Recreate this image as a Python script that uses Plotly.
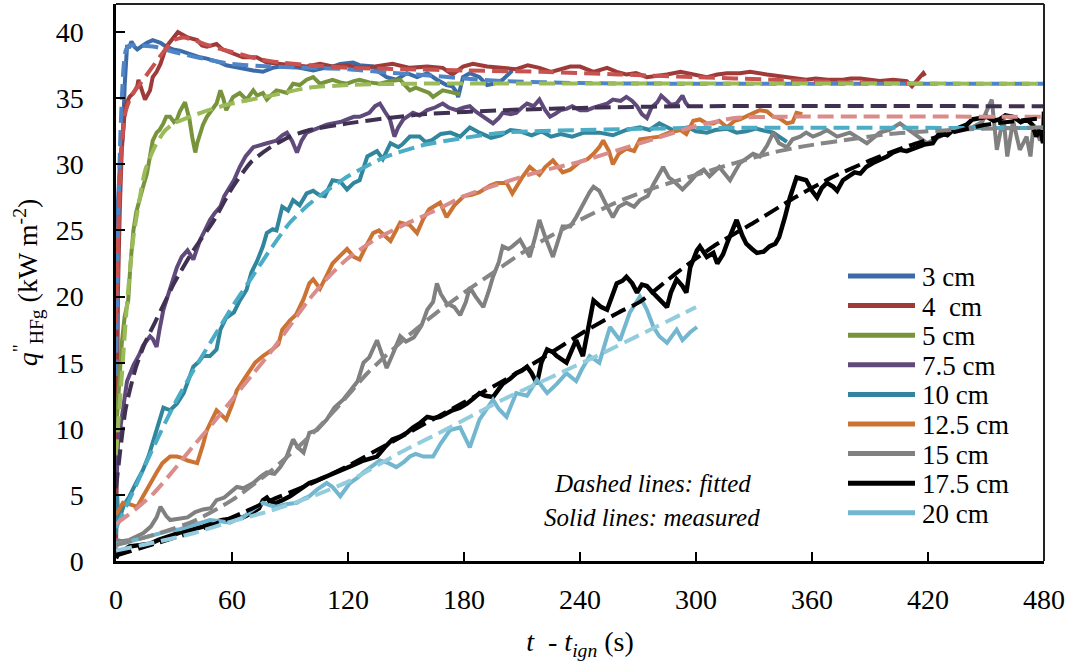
import plotly.graph_objects as go

# ---------------- data (t - t_ign [s], q''_HFg [kW m^-2]) ----------------
labels = ["3 cm", "4\u00a0 cm", "5 cm", "7.5 cm", "10 cm", "12.5 cm", "15 cm", "17.5 cm", "20 cm"]

meas_3cm = [(0,1.0),(0.3,8),(0.6,20.7),(1,27),(2,30),(3.6,32.4),(4.5,36),(5.2,38.5),(5.7,38.9),(7,38.9),(8,39.3),
            (9.5,38.9),(11,38.7),(13,38.9),(16,39.2),(19,39.4),(23,39.2),(26,38.9),(29.5,38.7),(33,38.6),(37,38.4),
            (40,38.2),(43.5,38.1),(47,38.0),(50,37.9),(54,37.7),(57,37.5),(60,37.4),(64,37.3),(67,37.2),(71,37.1),
            (76,37.0),(81,37.3),(85,37.4),(88.4,37.4),(95,37.3),(102,37.1),(108,37.3),(112,37.4),(116,37.6),
            (122.6,37.7),(126,37.5),(133,37.4),(136,37.0),(140,36.6),(145,36.4),(150.5,36.9),(155.7,36.6),
            (161,36.9),(166,36.4),(171,36.0),(174,35.9),(176,35.5),(177,35.1),(179.5,36.6),(183,36.9),(188,36.6),
            (192,36.0),(195,36.1),(200,36.4),(203,36.8),(205,37.1)]
meas_4cm = [(0,0.5),(0.5,8),(1,20.3),(2,26.8),(3,31.1),(4.7,34.4),(7,35.1),(9,35.4),(11,35.9),(11.6,36.4),(13.3,35.6),
            (15,34.9),(17.6,35.6),(19,36.6),(21,37.0),(23,37.6),(26,38.9),(29.5,39.6),(32,40.0),(34.5,39.8),(37,39.6),
            (42,39.4),(44.5,39.0),(47,38.9),(52,39.1),(55,38.7),(60.6,38.4),(65.7,38.1),(72.7,38.1),(78,37.7),(85,37.6),
            (91.6,37.5),(98.6,37.4),(105.5,37.6),(112,37.4),(119.5,37.5),(126,37.3),(134,37.4),(143,37.6),(152,37.3),
            (161,37.4),(169,37.3),(174,36.8),(179.5,37.4),(184.6,37.6),(192,37.4),(198.6,37.3),(207,37.2),(213,37.5),
            (219,37.3),(225,37.0),(230,37.2),(235,37.4),(240,37.4),(247,37.0),(254,37.3),(259,37.0),(264,36.8),
            (269,36.9),(274.6,36.6),(280,36.7),(285,36.8),(292,37.0),(298.6,36.8),(305.6,36.6),(311,36.8),(316,36.9),
            (322.7,36.9),(328,37.0),(336.7,36.8),(342,36.7),(347,36.6),(352,36.5),(357,36.4),(362,36.5),(368,36.4),
            (376,36.4),(380,36.5),(385,36.5),(390,36.4),(395,36.3),(402,36.4),(409,36.3),(411.7,35.9),(415,36.4),
            (417.6,36.9),(418.5,36.7)]
meas_5cm = [(0,9.7),(0.5,11),(1.5,13.5),(3,16.5),(4.5,18.5),(6.3,19.7),(7.5,22.5),(9,25.0),(10.5,26.4),(12.4,27.3),
            (14,28.3),(16,29.3),(17.5,30.7),(19,31.8),(21,32.4),(22.5,32.6),(24.5,33.1),(26,33.6),(28,33.6),(30,33.2),
            (31.5,33.4),(33,34.0),(35.7,34.7),(37,34.0),(38,33.4),(39.5,32.0),(41,30.9),(42,31.6),(43.5,32.4),(45,33.0),
            (47,33.6),(49,34.0),(52,34.6),(54,35.6),(55.5,35.0),(57,34.1),(59,34.6),(60.6,35.1),(64,35.4),(67.5,34.9),
            (71,35.6),(73,35.2),(76,35.4),(78,34.9),(80,35.2),(83,35.6),(86,35.5),(88.4,35.4),(91.6,36.1),(95,36.0),
            (98.6,36.4),(102,36.6),(105.5,36.1),(109,36.3),(112,36.4),(116,36.2),(119.5,36.1),(123,36.3),(126,36.4),
            (131,36.2),(136.5,36.1),(142,36.3),(147,36.4),(150,35.9),(152,35.6),(155,35.8),(159,35.6),(162,35.4),
            (164,35.1),(167,35.4),(169,35.6),(172,35.5),(176,35.4),(178,35.3)]
meas_7p5cm = [(0,6.0),(0.5,6.7),(1,8.8),(2,9.9),(4,12.0),(5.7,13.6),(9,14.8),(12,15.6),(14,16.3),(17.6,17.0),(19,16.8),
              (21,16.2),(22.5,17.5),(24.5,19.0),(26,19.7),(28.5,20.8),(31.5,22.2),(34,23.0),(37,23.5),(40,22.8),
              (43.5,24.3),(46,25.0),(48.6,25.8),(51,26.3),(54,26.8),(56,27.6),(59,28.3),(61,28.8),(64,29.8),(67,30.6),
              (71,31.3),(74,31.4),(78,31.6),(83,31.8),(86,32.2),(88.4,32.4),(91,31.8),(93.6,30.9),(96,31.8),(98.6,32.4),
              (102,32.6),(105.5,32.8),(109,33.0),(112,33.1),(116,33.2),(119.5,33.4),(123,33.6),(126,33.6),(131,33.9),
              (134,34.4),(136.5,34.6),(139,34.0),(141.7,33.4),(144,32.1),(146,32.8),(148.6,33.4),(153.6,33.9),
              (157,33.7),(161,34.1),(165,34.3),(169,34.6),(172,34.3),(176,34.1),(180,34.3),(183,34.4),(186,34.0),
              (190,33.6),(195,33.1),(198,33.5),(200,33.9),(204,33.8),(207,33.9),(210,34.3),(212.6,34.6),(216,34.4),
              (219,34.9),(222,34.1),(224.5,33.6),(227,33.8),(230,34.1),(233,34.2),(236,34.4),(240,34.1),(243.6,34.1),
              (247,34.3),(250,34.4),(254,34.6),(257,34.9),(261,34.8),(264,35.1),(267,34.8),(269.5,34.4),(272,33.8),
              (274.6,33.5),(277,34.3),(280,34.7),(282,35.2),(285,34.8),(287,34.5),(290,34.6),(293,35.2),(294.5,34.7),
              (296,34.4)]
meas_10cm = [(0,2.0),(0.3,3.0),(0.6,5.0),(1,3.6),(2,3.3),(4,4.2),(7,4.9),(10,5.8),(14,6.9),(17,8.0),(19,8.9),(22,10.3),
             (24.5,11.6),(28,11.4),(31.5,11.9),(35,12.7),(38,13.8),(40,14.7),(43,15.1),(45,15.5),(48.6,15.5),(52,16.0),
             (54,17.5),(57,18.4),(61,18.8),(64,19.7),(67.5,20.5),(70,21.8),(73,22.7),(76,23.8),(78,24.8),(81,25.1),
             (83,25.0),(86,26.8),(89,26.5),(91.6,27.3),(95,26.9),(98.6,27.8),(102,28.0),(105,27.7),(108,27.6),(112,28.8),
             (116,28.7),(119.5,28.1),(123,28.6),(126,28.8),(130,30.6),(133,30.8),(135,31.0),(138,30.4),(142,31.6),
             (146,31.3),(148,31.5),(152,32.1),(157,32.1),(160,31.7),(163,31.8),(168,32.3),(173,32.4),(178,32.1),
             (183,32.8),(188,32.4),(194,32.0),(199,32.2),(204,32.6),(209,32.5),(215,32.2),(220,32.5),(225,32.1),
             (230,32.3),(236,32.1),(242,32.4),(250,32.4),(257,32.2),(264,32.6),(271,32.8),(276,32.6),(281,33.1),
             (288,32.6),(296,32.8),(300,32.5),(305.6,32.4),(310,32.6),(316,32.7),(321,32.4),(326,32.5),(331,32.7),
             (336.7,32.5),(340,32.4),(343,32.1),(347,31.7)]
meas_12p5cm = [(0,3.5),(3.6,4.4),(7,4.3),(11,4.1),(14,4.9),(17.6,5.9),(21,6.7),(24,7.4),(28,7.9),(31.5,7.9),(34,7.8),
               (37,7.6),(42,7.4),(45,8.8),(47,9.9),(52,11.4),(57,10.7),(60,11.8),(62.5,12.9),(66,13.7),(69,14.4),
               (72,15.0),(76,15.5),(81,16.0),(84,16.4),(86,17.5),(90,18.2),(93,18.6),(97,19.8),(100,21.0),(102,21.3),
               (105.5,20.6),(109,21.6),(112,22.5),(116,23.1),(119.5,23.6),(123,23.0),(126,22.8),(130,24.0),(133,24.8),
               (136,25.0),(139,24.6),(142,24.2),(147,25.6),(152,25.4),(155.7,24.8),(159,25.9),(162,26.6),(167.6,27.1),
               (171,26.0),(175,26.9),(180,27.6),(184,27.7),(188,27.9),(193.5,28.4),(197,28.6),(202,28.6),(205,27.8),
               (210,29.0),(214,29.8),(219,29.2),(222,29.8),(226,30.3),(231,29.4),(235,29.6),(240,30.2),(244,30.4),
               (247,30.8),(250,31.3),(252,31.8),(255,31.0),(257,30.0),(260,30.8),(264,31.2),(268,31.0),(271,31.9),
               (276,32.0),(281,32.1),(286,32.4),(292,32.6),(295,32.3),(298.6,33.3),(302,33.4),(305.6,33.1),(309,33.1),
               (312,33.3),(316,32.8),(320,33.3),(322.7,33.4),(326,33.6),(330,33.9),(333,34.1),(336.7,34.0),(340,33.6),
               (343,33.5),(347,33.1),(350,33.2),(352,33.9),(355,33.8)]
meas_15cm = [(0,1.6),(3,1.5),(7,1.6),(10,1.8),(14,2.1),(18,2.6),(21,3.3),(23,4.1),(26,3.4),(28,3.1),(32,3.2),(37,3.3),
             (41,3.7),(45,3.9),(49,4.0),(52,4.6),(56,4.8),(59,5.2),(62.5,5.6),(66,5.5),(71,5.9),(75,6.4),(78,6.7),
             (82,6.6),(85,7.1),(88,7.8),(91.6,9.2),(94,8.6),(97,8.2),(100,9.7),(104,9.9),(109,10.7),(113,11.6),
             (117.5,12.2),(122.6,13.2),(125,13.6),(128,15.0),(131,15.4),(135,16.7),(137,15.8),(140,14.6),(143,15.6),
             (147,17.0),(150,16.6),(154,16.9),(158,17.8),(161,19.0),(164,19.6),(166,21.0),(168,20.2),(171,19.5),
             (175,19.2),(178,18.6),(181,19.6),(183,20.7),(186,20.0),(190,19.2),(193,20.5),(195,21.5),(198,22.6),
             (200,23.8),(203,23.6),(205,23.8),(209,24.3),(212,23.6),(214,23.0),(217,24.6),(219,25.8),(222,24.5),
             (226,23.0),(231,25.3),(235,25.3),(238,26.0),(241.5,27.0),(245,27.9),(247,28.3),(250,28.0),(254,26.8),
             (257,26.0),(260,26.8),(264,27.1),(268,26.8),(271,27.3),(275,27.6),(278,28.5),(283,29.8),(286,29.0),
             (288,28.8),(293,28.1),(297,28.7),(300.5,29.3),(304,29.6),(307,29.1),(312,29.8),(317.6,28.8),
             (322.7,30.1),(329.5,30.8),(333,30.6),(336.7,31.4),(340,32.4),(343,31.6),(347,31.3),(350,31.9),
             (353.8,32.1),(357,32.4),(360.5,32.1),(364,32.3),(367.7,32.6),(373,32.1),(379.6,32.4),(384,32.0),
             (388.4,31.6),(395,32.4),(400,32.6),(405.5,33.1),(412,32.4),(419.5,31.6),(426,32.1),(433,32.6),
             (443,32.8),(448,33.2),(450.5,34.1),(453,34.9),(455.6,31.1),(459,33.6),(461,30.6),(464,33.3),
             (467.5,31.1),(471,32.1),(473,30.6),(474.6,33.0),(478,31.8),(480,33.0)]
meas_17p5cm = [(0,0.2),(1,0.5),(4,0.8),(7,1.1),(12,1.2),(17.6,1.3),(22,1.6),(26,1.8),(31.5,2.1),(36,2.3),(40,2.4),
               (45,2.6),(50,2.9),(55,3.1),(60,3.2),(65.7,3.3),(70,3.6),(74,4.0),(76,4.6),(78,4.8),(80,4.4),(83,4.4),
               (86,4.6),(90,4.9),(95,5.4),(100,5.9),(104,6.1),(109,6.4),(113,6.6),(117.5,6.9),(122,7.2),(128,7.6),
               (131,7.7),(135,7.9),(139,8.6),(143,9.2),(147,9.4),(150.5,9.7),(153.6,10.1),(157,10.4),(161,10.9),
               (164,10.8),(167.6,10.9),(171,11.2),(174,11.4),(178,11.6),(181.5,11.9),(185,12.3),(188,12.7),(191,12.5),
               (195,12.4),(198,13.0),(200,13.4),(204,13.8),(207,14.2),(210,14.4),(212.6,14.7),(215,14.2),(217.7,13.4),
               (220,15.0),(223,16.0),(226,15.8),(228,15.5),(233,15.0),(236,16.0),(238,16.7),(241.5,15.5),(244,17.5),
               (247,19.7),(251,19.2),(254,19.0),(257,20.2),(259,21.0),(262,21.2),(264,21.5),(267,21.0),(269.5,20.3),
               (272,20.9),(274.6,20.8),(277,20.4),(280,20.0),(283,19.5),(285,19.2),(287,20.3),(290,21.3),(293,20.8),
               (295,20.3),(297,22.2),(300.5,23.5),(302,23.8),(305.6,23.0),(309,23.3),(311,22.5),(314,23.2),(316,24.0),
               (318,24.8),(321,25.8),(324,24.6),(326,24.0),(329,23.6),(331.5,23.3),(335,23.4),(338,23.8),(341,24.0),
               (343,24.5),(346,26.0),(348.6,27.5),(352,29.0),(355,28.9),(357,28.8),(360,28.0),(362.6,27.5),(365,28.2),
               (367.7,28.6),(371,28.3),(373,28.0),(376,28.8),(378,29.0),(382,29.4),(385,29.3),(388,29.8),(391.5,30.1),
               (395,30.3),(398.8,30.6),(402,30.9),(405.5,31.1),(409,31.0),(414,31.3),(418,31.5),(422.5,31.6),
               (426,32.4),(430,32.2),(433,32.6),(436.5,32.8),(440,33.0),(443,33.4),(447,33.5),(450.5,33.6),(454,33.3),
               (457,33.4),(460,33.7),(464,33.6),(468,33.2),(471,33.4),(474,33.0),(476,32.1),(478,32.8),(479.5,31.6),
               (480,34.0)]
meas_20cm = [(0,1.0),(0.5,1.3),(5,1.4),(10,1.6),(14,1.8),(20,2.0),(28,2.3),(33,2.4),(38,2.6),(44,2.9),(48.6,3.1),
             (54,3.0),(59,2.9),(62,3.1),(65.7,3.3),(70,3.8),(76,4.4),(80,4.2),(83,4.1),(88,4.3),(93.6,4.4),(97,4.7),
             (100,4.9),(104,5.4),(109,5.9),(112,5.6),(116,4.9),(121,5.9),(125,6.3),(128,6.7),(132,7.1),(136.5,7.6),
             (141,7.4),(145,7.1),(149,7.5),(152,7.9),(155,8.1),(159,7.9),(164,7.9),(168,8.9),(172.8,9.9),(178,10.1),
             (180,9.5),(183,8.6),(188,10.7),(191,11.4),(195,12.2),(198,11.5),(202,10.9),(207,12.7),(212.6,12.5),
             (217.7,13.7),(223,12.7),(228,13.4),(233,14.2),(238,13.6),(241,14.5),(245,15.5),(250,15.0),(255.5,17.7),
             (260.7,16.7),(265.8,18.8),(271,20.0),(274.6,19.0),(278,17.7),(281,17.0),(285,16.5),(290,17.5),(293,16.7),
             (297,17.3),(300.5,17.7)]

fit_3cm = [(0,14),(1,24),(2,31),(3,35),(4,37.5),(5,38.6),(7,39.0),(10,39.0),(20,38.9),(30,38.5),(45,38.0),(60,37.6),
           (80,37.4),(100,37.3),(120,37.2),(140,36.95),(160,36.75),(180,36.5),(200,36.3),(240,36.15),(300,36.1),(480,36.1)]
fit_4cm = [(0,18),(1,24),(2,28.5),(3,31.5),(5,34),(8,35.2),(12,36),(16,36.8),(20,37.6),(25,38.6),(30,39.4),(35,39.6),
           (40,39.4),(50,38.9),(60,38.5),(70,38.1),(80,37.8),(100,37.5),(120,37.3),(150,37.2),(180,37.1),(220,37.0),
           (260,36.8),(300,36.6),(340,36.4),(380,36.2),(420,36.1)]
fit_5cm = [(0,8),(3,14),(6,20),(9,24.5),(12,27.2),(15,29.5),(20,31.3),(25,32.5),(30,33.1),(40,33.7),(50,34.2),
           (60,34.6),(80,35.2),(100,35.8),(120,36.0),(150,36.1),(480,36.1)]
fit_7p5cm = [(0,5.5),(5,11.5),(10,14.5),(15,16.5),(20,18),(25,19.5),(30,21),(40,23.5),(50,25.6),(60,28.2),(70,30.2),
             (80,31.3),(90,32.1),(100,32.6),(120,33.1),(140,33.5),(160,33.8),(200,34.1),(250,34.3),(300,34.4),(480,34.4)]
fit_10cm = [(0,2.5),(10,5.6),(20,8.8),(30,11.8),(40,14.4),(50,16.8),(60,19.2),(70,21.4),(80,23.6),(90,25.6),(100,27.0),
            (110,28.1),(120,29.1),(130,29.9),(140,30.6),(160,31.5),(180,32.0),(200,32.4),(240,32.6),(300,32.75),(480,32.75)]
fit_12p5cm = [(0,2.8),(10,3.9),(20,5.2),(30,6.9),(40,8.7),(50,10.4),(60,12.2),(70,14.0),(80,15.8),(90,17.8),(100,19.8),
              (110,21.5),(120,22.9),(135,24.4),(150,25.5),(165,26.5),(180,27.6),(200,28.6),(220,29.5),(240,30.2),
              (260,31.1),(280,32.0),(300,32.9),(320,33.5),(340,33.6),(480,33.6)]
fit_15cm = [(0,1.2),(20,2.0),(40,3.0),(60,4.6),(80,6.8),(100,9.4),(115,11.7),(130,14.2),(150,16.9),(166,18.8),
            (180,20.3),(192,21.5),(210,23.3),(225,24.6),(240,25.8),(260,27.2),(280,28.3),(300,29.2),(320,30.1),
            (340,30.9),(357,31.4),(380,31.9),(400,32.3),(440,32.65),(480,32.8)]
fit_17p5cm = [(0,0.4),(20,1.3),(40,2.2),(60,3.3),(80,4.6),(100,5.8),(120,7.2),(150,9.6),(180,12.0),(200,13.6),
              (220,15.3),(244,17.5),(260,18.8),(271,19.6),(290,21.8),(310,23.9),(330,25.6),(350,27.4),(370,29.0),
              (390,30.3),(410,31.4),(430,32.3),(450,33.0),(480,33.5)]
fit_20cm = [(0,0.8),(20,1.4),(40,2.1),(60,3.0),(80,3.8),(100,4.8),(120,6.0),(147,8.2),(170,9.9),(200,12.2),
            (225,13.9),(250,15.6),(275,17.4),(300,19.2)]

x_ticks = [0, 60, 120, 180, 240, 300, 360, 420, 480]
y_ticks = [0, 5, 10, 15, 20, 25, 30, 35, 40]

measured = [meas_3cm, meas_4cm, meas_5cm, meas_7p5cm, meas_10cm, meas_12p5cm, meas_15cm, meas_17p5cm, meas_20cm]
fitted = [fit_3cm, fit_4cm, fit_5cm, fit_7p5cm, fit_10cm, fit_12p5cm, fit_15cm, fit_17p5cm, fit_20cm]

meas_colors = ["#3C6CA8", "#9E3A38", "#77933C", "#604A7B", "#31859C", "#CC7232", "#808080", "#000000", "#72B6CF"]
fit_colors = ["#4F85C6", "#C8524F", "#9BBB59", "#403152", "#4BACC6", "#D98C8A", "#868686", "#000000", "#93CDDD"]

FONT = "Liberation Serif"

fig = go.Figure()
for lab, data, col in zip(labels, measured, meas_colors):
    fig.add_trace(go.Scatter(x=[p[0] for p in data], y=[p[1] for p in data], mode="lines", name=lab,
                             line=dict(color=col, width=4.5 if col == "#000000" else 4), showlegend=False))
for lab, data, col in zip(labels, fitted, fit_colors):
    fig.add_trace(go.Scatter(x=[p[0] for p in data], y=[p[1] for p in data], mode="lines", name=lab + " fitted",
                             line=dict(color=col, width=4, dash="16px,7px", shape="spline", smoothing=0.6),
                             showlegend=False))

# plot-area geometry (pixels)
L, R, T, B = 116, 1044, 4, 561
W, H = 1075, 668

def px(xp):
    return (xp - L) / (R - L)

def py(yp):
    return (B - yp) / (B - T)

shapes = [
    dict(type="line", xref="paper", yref="paper", x0=0, x1=1, y0=1, y1=1, line=dict(color="#222", width=2)),
    dict(type="line", xref="paper", yref="paper", x0=1, x1=1, y0=0, y1=1, line=dict(color="#222", width=2)),
]
annotations = []
leg_y0, leg_dy = 276, 29.6
for i, (lab, col) in enumerate(zip(labels, meas_colors)):
    yy = leg_y0 + i * leg_dy
    shapes.append(dict(type="line", xref="paper", yref="paper", x0=px(848), x1=px(915), y0=py(yy), y1=py(yy),
                       line=dict(color=col, width=5)))
    annotations.append(dict(xref="paper", yref="paper", x=px(920), y=py(yy + 1), text=lab, showarrow=False,
                            xanchor="left", yanchor="middle", font=dict(family=FONT, size=27, color="black")))

annotations.append(dict(xref="paper", yref="paper", x=px(652), y=py(483), text="<i>Dashed lines: fitted</i>",
                        showarrow=False, xanchor="center", yanchor="middle",
                        font=dict(family=FONT, size=25, color="black")))
annotations.append(dict(xref="paper", yref="paper", x=px(652), y=py(517), text="<i>Solid lines: measured</i>",
                        showarrow=False, xanchor="center", yanchor="middle",
                        font=dict(family=FONT, size=25, color="black")))

fig.update_layout(
    width=W, height=H,
    margin=dict(l=L, r=W - R, t=T, b=H - B),
    paper_bgcolor="white", plot_bgcolor="white",
    showlegend=False,
    font=dict(family=FONT, size=28, color="black"),
    shapes=shapes, annotations=annotations,
    xaxis=dict(range=[0, 480], tickvals=x_ticks, ticks="inside", ticklen=9, tickwidth=2, tickcolor="black",
               showline=True, linewidth=2.5, linecolor="black", showgrid=False, zeroline=False,
               tickfont=dict(family=FONT, size=28, color="black"), ticklabelstandoff=12,
               title=dict(text="<i>t</i>  - <i>t</i><sub><i>ign</i></sub> (s)",
                          font=dict(family=FONT, size=28, color="black"), standoff=18)),
    yaxis=dict(range=[0, 42.13], tickvals=y_ticks, ticks="inside", ticklen=9, tickwidth=2, tickcolor="black",
               showline=True, linewidth=2.5, linecolor="black", showgrid=False, zeroline=False,
               tickfont=dict(family=FONT, size=28, color="black"), ticklabelstandoff=24,
               title=dict(text="<i>q</i><sup>\"</sup><sub>HFg</sub> (kW m<sup>-2</sup>)",
                          font=dict(family=FONT, size=28, color="black"), standoff=10)),
)

fig.write_html("out.html")
